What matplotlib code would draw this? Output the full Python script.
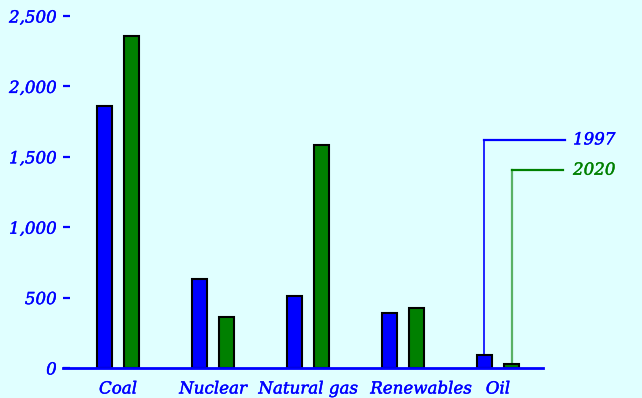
import matplotlib
matplotlib.use("Agg")
import matplotlib.pyplot as plt
import matplotlib.patheffects as pe
import matplotlib.transforms as mtransforms
import numpy as np

# Data
categories = ["Coal", "Nuclear", "Natural gas", "Renewables", "Oil"]
series_names = ["1997", "2020"]
values_1997 = [1861, 632, 511, 391, 92]
values_2020 = [2358, 362, 1584, 426, 28]
yticks = [0, 500, 1000, 1500, 2000, 2500]

BLUE = "#0000ff"
GREEN = "#008000"
BG = "#e0ffff"
FONT = dict(family="DejaVu Serif", style="italic", size=12)


def heavy(col):
    # thicken the glyphs a little, the reference font is heavier than DejaVu
    return [pe.withStroke(linewidth=0.3, foreground=col)]


fig = plt.figure(figsize=(6.42, 3.98), dpi=100, facecolor=BG)
ax = fig.add_axes([63 / 642, 30 / 398, 480 / 642, 352 / 398], facecolor=BG)

x = np.arange(len(categories))
off, w = 0.147, 0.158
ax.bar(x - off, values_1997, width=w, color=BLUE, edgecolor="black", linewidth=1.5, zorder=3)
ax.bar(x + off, values_2020, width=w, color=GREEN, edgecolor="black", linewidth=1.5, zorder=3)

ax.set_xlim(-0.579, 4.474)
ax.set_ylim(0, 2500)

for s in ["top", "right", "left"]:
    ax.spines[s].set_visible(False)
ax.spines["bottom"].set_color(BLUE)
ax.spines["bottom"].set_linewidth(2)
ax.spines["bottom"].set_zorder(4)

ax.set_yticks(yticks)
ax.set_yticklabels([f"{v:,}" for v in yticks], color=BLUE, **FONT)
ax.tick_params(axis="y", direction="in", length=5, width=1.6, color=BLUE, pad=4.5)
ax.set_xticks(x)
ax.set_xticklabels(categories, color=BLUE, **FONT)
ax.tick_params(axis="x", length=0, pad=9)
for t in ax.get_xticklabels() + ax.get_yticklabels():
    t.set_path_effects(heavy(BLUE))

# the original nudges "Renewables" right so it clears "Natural gas"
shift = mtransforms.ScaledTranslation(0.18, 0, fig.dpi_scale_trans)
for tick in ax.xaxis.get_major_ticks():
    if tick.label1.get_text() == "Renewables":
        tick.label1.set_transform(tick.label1.get_transform() + shift)

# legend drawn as leader lines from the last category's bars
last = len(categories) - 1
legend_y = [1620, 1405]
line_end = [4.71, 4.68]
for i, (name, col, vals) in enumerate(zip(series_names, [BLUE, GREEN], [values_1997, values_2020])):
    bx = last + (-off if i == 0 else off)
    ax.plot([bx, bx], [vals[last], legend_y[i]], color=col, lw=1.2 if i == 0 else 1.6,
            alpha=1.0 if i == 0 else 0.6, clip_on=False, zorder=2)
    ax.plot([bx, line_end[i]], [legend_y[i], legend_y[i]], color=col, lw=1.6,
            clip_on=False, zorder=2)
    ax.text(4.79, legend_y[i], name, color=col, va="center", ha="left", clip_on=False,
            path_effects=heavy(col), **FONT)

fig.savefig("out.png", dpi=100, facecolor=BG)
